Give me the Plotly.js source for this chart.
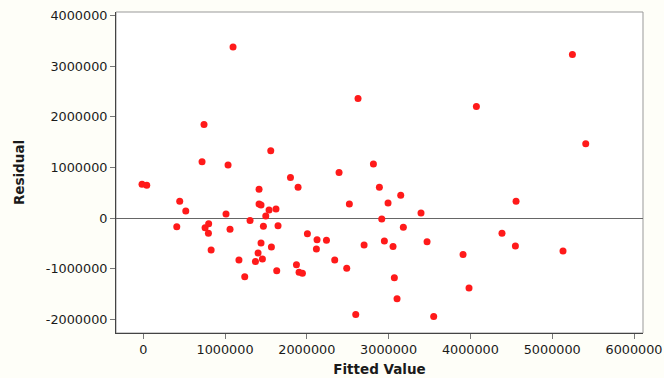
<!DOCTYPE html>
<html>
<head>
<meta charset="utf-8">
<script src="https://cdn.plot.ly/plotly-3.0.1.min.js"></script>
<style>
html,body{margin:0;padding:0;background:#fefef8;}
#chart{width:664px;height:378px;}
</style>
</head>
<body>
<div id="chart"></div>
<script>
const fittedValue = [
  1098000, 743000, 719000, 1037000, -15000, 43000, 446000, 520000, 410000, 756000,
  800000, 797000, 830000, 1012000, 1061000, 1170000, 2626000, 1559000, 1416000, 1800000,
  1893000, 2394000, 2814000, 2887000, 3148000, 1416000, 1440000, 1306000, 1538000, 1623000,
  1498000, 1469000, 1648000, 1440000, 1404000, 1457000, 1372000, 1241000, 1567000, 1632000,
  2007000, 2125000, 2117000, 2240000, 1873000, 1905000, 1946000, 2341000, 2488000, 2520000,
  2598000, 2700000, 2916000, 2993000, 2948000, 3054000, 3180000, 3070000, 3103000, 3396000,
  3470000, 3551000, 5247000, 4073000, 5410000, 4558000, 4386000, 4550000, 5132000, 3910000,
  3983000
];
const residual = [
  3380000, 1850000, 1110000, 1050000, 670000, 650000, 330000, 140000, -170000, -190000,
  -110000, -300000, -630000, 80000, -220000, -830000, 2360000, 1330000, 570000, 800000,
  610000, 900000, 1070000, 610000, 450000, 280000, 260000, -50000, 160000, 180000,
  40000, -160000, -150000, -490000, -690000, -810000, -860000, -1160000, -570000, -1040000,
  -310000, -430000, -610000, -440000, -920000, -1070000, -1090000, -830000, -990000, 280000,
  -1905000, -530000, -20000, 300000, -455000, -560000, -180000, -1180000, -1595000, 100000,
  -470000, -1945000, 3230000, 2205000, 1470000, 330000, -300000, -550000, -650000, -720000,
  -1380000
];
const xTicks = [0, 1000000, 2000000, 3000000, 4000000, 5000000, 6000000];
const yTicks = [-2000000, -1000000, 0, 1000000, 2000000, 3000000, 4000000];

const trace = {
  type: 'scatter',
  mode: 'markers',
  x: fittedValue,
  y: residual,
  marker: {color: '#ff1a1a', size: 7, line: {width: 0}},
  hoverinfo: 'x+y'
};

const tickFont = {family: 'DejaVu Sans, Verdana, sans-serif', size: 12.8, color: '#1a1a1a'};
const titleFont = {family: 'DejaVu Sans, Verdana, sans-serif', size: 13.5, color: '#1a1a1a', weight: 'bold'};

const layout = {
  width: 664, height: 378,
  margin: {l: 116, r: 21, t: 12, b: 45},
  paper_bgcolor: '#fefef8',
  plot_bgcolor: '#ffffff',
  showlegend: false,
  xaxis: {
    range: [-333000, 6110000],
    tickmode: 'array', tickvals: xTicks, ticktext: xTicks.map(String),
    ticks: 'outside', ticklen: 5, tickcolor: '#777', tickwidth: 1,
    showgrid: false, zeroline: false,
    showline: true, linecolor: '#444', linewidth: 1, mirror: false,
    tickfont: tickFont,
    title: {text: '<b>Fitted Value</b>', font: titleFont, standoff: 8}
  },
  yaxis: {
    range: [-2270000, 4070000],
    tickmode: 'array', tickvals: yTicks, ticktext: yTicks.map(String),
    ticks: 'outside', ticklen: 5, tickcolor: '#777', tickwidth: 1,
    showgrid: false, zeroline: true, zerolinecolor: '#666', zerolinewidth: 1,
    showline: true, linecolor: '#444', linewidth: 1, mirror: false,
    tickfont: tickFont,
    title: {text: '<b>Residual</b>', font: titleFont, standoff: 18}
  },
  shapes: [
    {type: 'rect', xref: 'paper', yref: 'paper', x0: 0, x1: 1, y0: 0, y1: 1,
     line: {color: '#999', width: 1}, layer: 'below'}
  ]
};

Plotly.newPlot('chart', [trace], layout, {displayModeBar: false, staticPlot: true});
</script>
</body>
</html>
